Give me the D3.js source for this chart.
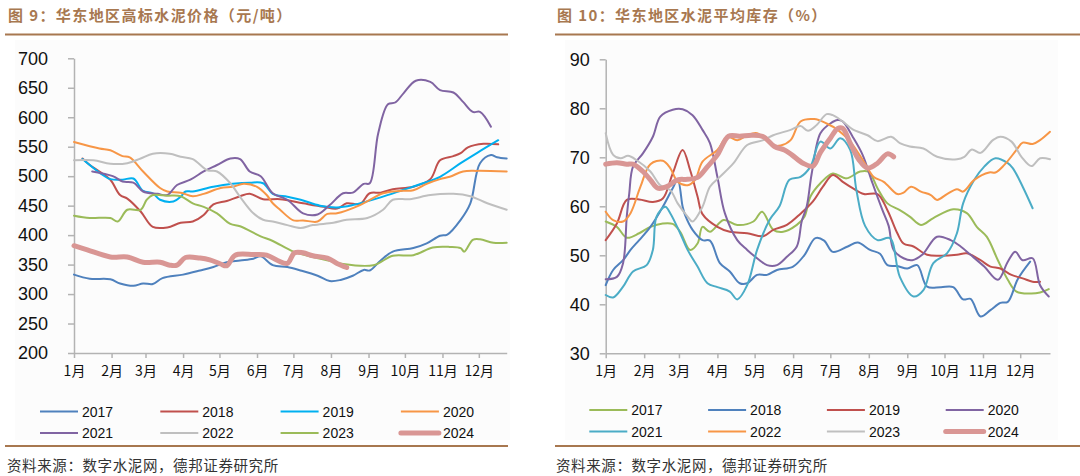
<!DOCTYPE html>
<html><head><meta charset="utf-8">
<script src="https://cdn.jsdelivr.net/npm/d3@7"></script>
<style>
body{margin:0;background:#fff;}
svg{display:block;font-family:"Liberation Sans",Arial,sans-serif;}
</style>
</head><body>
<svg id="c" width="1080" height="476"></svg>
<script>
// ---------- shared ----------
const months = ["1月","2月","3月","4月","5月","6月","7月","8月","9月","10月","11月","12月"];
const years = ["2017","2018","2019","2020","2021","2022","2023","2024"];
const sourceText = "资料来源：数字水泥网，德邦证券研究所";

// ---------- chart 9: price (yuan/ton), x = day of year ----------
const title9 = "图 9：华东地区高标水泥价格（元/吨）";
const priceTicks = [200,250,300,350,400,450,500,550,600,650,700];
const price2017 = [[0,333],[13,326],[30,325],[38,318],[49,314],[57,318],[65,317],[73,327],[90,333],[104,340],[115,346],[126,354],[137,357],[148,360],[154,364],[164,349],[176,346],[187,340],[201,331],[211,322],[220,324],[230,331],[239,341],[244,340],[253,357],[263,372],[280,378],[291,386],[302,399],[308,401],[319,426],[327,454],[335,522],[344,536],[349,532],[357,530]];
const price2018 = [[7,530],[13,519],[21,508],[30,494],[38,468],[44,462],[55,440],[65,414],[77,413],[88,421],[98,423],[107,434],[115,452],[126,458],[137,466],[145,470],[156,461],[170,461],[189,454],[206,448],[217,445],[225,454],[236,453],[244,471],[253,472],[263,478],[280,482],[294,495],[302,527],[313,534],[319,539],[325,549],[338,555],[350,554]];
const price2019 = [[7,529],[21,506],[30,495],[40,494],[49,496],[57,475],[65,471],[71,460],[82,457],[88,465],[92,474],[98,474],[115,482],[131,487],[145,489],[156,488],[164,470],[176,465],[187,460],[203,450],[217,447],[230,451],[253,464],[272,477],[288,488],[302,499],[319,522],[333,540],[350,561]];
const price2020 = [[0,558],[21,547],[30,544],[40,534],[46,532],[57,508],[71,480],[77,474],[88,472],[98,466],[107,470],[121,480],[131,482],[140,487],[151,482],[159,468],[164,454],[170,443],[181,425],[189,425],[201,423],[209,436],[217,437],[236,451],[255,471],[269,475],[280,476],[291,487],[302,495],[310,499],[321,508],[333,509],[357,508]];
const price2021 = [[15,508],[32,500],[40,491],[49,489],[57,474],[69,470],[77,468],[85,485],[96,494],[107,508],[118,519],[129,530],[137,529],[145,508],[154,500],[164,471],[176,460],[189,437],[201,435],[211,451],[222,471],[230,472],[239,487],[244,488],[251,573],[259,622],[265,625],[272,641],[282,662],[294,660],[302,646],[313,642],[321,626],[329,609],[335,609],[344,584]];
const price2022 = [[0,527],[16,527],[30,521],[44,522],[55,530],[65,538],[79,538],[88,533],[98,529],[110,510],[118,508],[129,488],[137,465],[148,437],[156,426],[164,423],[176,417],[187,412],[197,417],[214,421],[225,426],[242,429],[255,443],[263,460],[277,461],[294,468],[313,470],[327,466],[341,454],[357,443]];
const price2023 = [[0,433],[13,429],[30,429],[36,423],[44,443],[55,443],[60,460],[65,468],[77,467],[88,466],[98,454],[107,448],[118,437],[129,419],[137,415],[154,398],[164,390],[181,372],[197,363],[214,355],[222,351],[247,349],[263,365],[280,366],[296,379],[310,380],[319,378],[322,372],[329,392],[335,393],[346,387],[357,387]];
const price2024 = [[0,382],[11,375],[30,363],[44,363],[57,354],[71,354],[79,349],[85,349],[92,362],[104,361],[112,358],[121,351],[126,348],[133,366],[148,367],[159,366],[168,357],[176,352],[182,370],[189,370],[197,365],[209,361],[217,352],[225,345]];
const priceSeries = [price2017,price2018,price2019,price2020,price2021,price2022,price2023,price2024];
const priceColors = ["#4f81bd","#c0504d","#00b0f0","#f79646","#8064a2","#bfbfbf","#9bbb59","#d99694"];

// ---------- chart 10: inventory (%), x = day of year ----------
const title10 = "图 10：华东地区水泥平均库存（%）";
const invTicks = [30,40,50,60,70,80,90];
const inv2017 = [[0,56.9],[9,55.8],[17,53.6],[27,54.5],[36,55.8],[46,56.5],[54,56.4],[60,54.8],[68,51.1],[74,52.4],[78,55.8],[84,54.8],[95,57.2],[106,56.2],[119,56.9],[126,58.9],[135,55.2],[143,54.8],[154,56.2],[160,57.8],[165,62.0],[173,64.7],[183,66.7],[194,65.7],[205,67.1],[212,67.0],[219,63.7],[227,60.6],[237,59.2],[245,57.9],[254,56.2],[264,57.6],[280,59.4],[291,58.6],[299,55.8],[307,53.8],[316,49.0],[324,45.0],[331,42.6],[342,42.2],[350,42.4],[357,43.1]];
const inv2018 = [[0,43.9],[6,47.0],[14,49.0],[20,51.1],[27,53.1],[36,55.8],[46,59.9],[54,63.7],[58,65.4],[62,59.9],[64,58.2],[70,55.2],[78,53.1],[84,53.0],[92,48.4],[100,46.7],[108,44.3],[114,44.3],[122,46.0],[130,46.0],[138,47.0],[151,47.7],[160,50.0],[169,53.5],[176,53.0],[183,50.7],[195,51.8],[203,52.6],[213,51.1],[221,50.3],[227,48.0],[235,47.8],[243,47.3],[251,48.0],[259,43.6],[270,43.5],[280,43.5],[288,41.0],[294,41.1],[302,37.5],[310,38.8],[318,40.3],[324,40.5],[332,45.1],[342,48.7]];
const inv2019 = [[0,53.1],[9,56.5],[17,61.3],[27,61.4],[38,60.9],[46,61.6],[54,66.7],[62,71.5],[68,67.4],[74,62.0],[78,58.4],[90,55.8],[100,54.8],[114,54.5],[127,53.9],[135,55.2],[146,56.2],[157,58.5],[167,61.0],[175,64.0],[183,66.4],[191,65.0],[199,63.7],[208,62.5],[219,62.5],[227,59.2],[235,54.5],[240,52.4],[248,51.8],[259,50.1],[270,49.9],[283,50.1],[291,50.4],[302,49.0],[310,47.7],[318,47.3],[327,46.0],[336,45.3],[344,44.6],[350,44.6]];
const inv2020 = [[0,45.1],[9,45.6],[14,48.4],[17,58.0],[19,62.7],[22,68.1],[30,70.8],[38,74.2],[44,78.3],[54,79.7],[62,79.8],[70,78.6],[78,75.6],[84,72.9],[90,66.0],[96,58.6],[106,53.1],[114,51.1],[124,49.0],[130,48.0],[138,48.0],[146,49.7],[154,51.8],[158,57.0],[162,60.0],[166,66.7],[173,74.9],[181,76.9],[187,77.6],[191,77.3],[199,74.2],[207,70.5],[215,64.7],[223,59.2],[228,56.0],[232,51.1],[240,49.4],[247,49.0],[255,50.1],[267,53.8],[278,53.1],[286,51.8],[294,50.1],[305,47.7],[316,45.0],[324,48.7],[330,50.7],[336,49.0],[344,49.4],[350,43.9],[357,41.6]];
const inv2021 = [[0,41.9],[6,41.4],[14,43.6],[22,46.7],[33,48.0],[38,51.1],[41,57.9],[48,59.9],[52,58.6],[60,54.5],[66,51.1],[74,47.7],[82,44.3],[90,43.5],[100,42.6],[106,41.0],[114,43.9],[122,51.1],[132,57.2],[140,60.0],[148,65.4],[157,66.0],[165,68.1],[173,73.2],[181,71.8],[189,73.9],[197,71.5],[202,63.3],[209,56.0],[219,53.1],[229,53.5],[237,45.6],[248,41.6],[256,42.9],[264,48.4],[275,50.4],[283,54.5],[288,60.6],[297,65.4],[305,68.1],[314,69.8],[324,68.8],[328,67.8],[336,64.0],[344,59.6]];
const inv2022 = [[0,58.9],[6,57.2],[14,56.9],[20,58.6],[28,64.0],[36,68.6],[46,69.3],[52,67.8],[58,65.0],[66,64.3],[72,65.4],[78,69.1],[90,71.5],[98,74.2],[106,73.5],[114,74.5],[122,74.9],[134,72.5],[141,72.4],[149,73.5],[157,77.3],[168,77.8],[178,76.9],[187,75.6],[197,73.2],[208,69.1],[216,66.0],[224,65.0],[235,62.5],[240,62.8],[246,64.0],[254,63.0],[262,62.3],[267,61.3],[275,62.5],[283,63.5],[288,63.0],[297,65.4],[309,66.9],[314,66.9],[321,68.4],[331,71.5],[336,73.0],[344,72.7],[350,73.5],[358,75.2]];
const inv2023 = [[0,74.9],[6,70.5],[12,69.8],[18,70.3],[25,69.4],[36,67.1],[44,64.3],[52,63.3],[58,60.6],[66,57.9],[70,56.9],[78,59.9],[84,64.0],[92,66.0],[103,68.8],[114,72.5],[127,73.5],[135,74.5],[149,75.6],[157,76.4],[163,75.4],[170,76.6],[178,78.8],[183,78.6],[191,77.3],[199,75.7],[211,74.5],[219,73.3],[230,74.2],[237,72.9],[245,72.2],[256,71.8],[267,70.1],[283,69.6],[289,70.1],[295,71.6],[302,70.9],[312,73.5],[318,74.2],[327,73.2],[335,70.1],[343,68.2],[350,69.8],[358,69.6]];
const inv2024 = [[0,68.6],[9,68.9],[17,68.6],[22,68.6],[30,67.1],[36,65.4],[42,63.7],[49,64.0],[58,65.4],[66,65.5],[74,65.9],[82,68.1],[90,70.5],[99,74.3],[108,74.3],[118,74.5],[127,74.2],[136,72.2],[144,71.5],[150,70.5],[159,68.8],[167,68.2],[173,71.0],[181,73.9],[187,75.9],[191,75.9],[197,72.9],[204,69.5],[211,67.8],[219,68.8],[227,70.7],[232,70.1]];
const invSeries = [inv2017,inv2018,inv2019,inv2020,inv2021,inv2022,inv2023,inv2024];
const invColors = ["#9bbb59","#4f81bd","#c0504d","#8064a2","#4bacc6","#f79646","#bfbfbf","#d99694"];

// ---------- drawing ----------
const svg = d3.select("#c");
const BROWN = "#a87850";
const base = new Date(2023,0,1);
const toDate = d => d3.timeDay.offset(base, d);
const monthStarts = d3.range(12).map(m => new Date(2023,m,1));

function panel(o){
  const g = svg.append("g");
  // faint chart area
  g.append("rect").attr("x",o.bgX0).attr("y",40).attr("width",o.bgX1-o.bgX0).attr("height",400).attr("fill","#fcfcfc");
  // title
  g.append("text").attr("x",o.titleX).attr("y",21).text(o.title)
    .attr("fill",BROWN).attr("font-size",15).attr("font-weight","bold")
    .attr("letter-spacing",1.4).attr("font-family","'Noto Sans CJK SC',sans-serif");
  g.append("line").attr("x1",o.ruleX0).attr("x2",o.ruleX1).attr("y1",34.5).attr("y2",34.5)
    .attr("stroke",BROWN).attr("stroke-width",2.2);
  g.append("line").attr("x1",o.ruleX0).attr("x2",o.ruleX1).attr("y1",446).attr("y2",446)
    .attr("stroke",BROWN).attr("stroke-width",2.2);
  g.append("text").attr("x",o.titleX-1).attr("y",471).text(sourceText)
    .attr("fill","#333").attr("font-size",14.5).attr("letter-spacing",0.6)
    .attr("font-family","'Noto Sans CJK SC',sans-serif");

  const x = d3.scaleTime().domain([base, o.end]).range([o.x0,o.x1]);
  const y = d3.scaleLinear().domain([o.ticks[0], o.ticks[o.ticks.length-1]]).range([o.yBot,o.yTop]);

  const ya = g.append("g").attr("transform",`translate(${o.x0},0)`)
    .call(d3.axisLeft(y).tickValues(o.ticks).tickSize(6).tickSizeOuter(0).tickPadding(o.yPad));
  ya.select(".domain").attr("stroke","#b3b3b3").attr("stroke-width",1.5);
  ya.selectAll(".tick line").attr("stroke","#b3b3b3").attr("stroke-width",1.5);
  ya.selectAll(".tick text").attr("font-size",18).attr("fill","#111")
    .attr("font-family","'Liberation Sans',Arial,sans-serif");

  const xa = g.append("g").attr("transform",`translate(0,${o.yBot})`)
    .call(d3.axisBottom(x).tickValues(monthStarts).tickSize(5).tickSizeOuter(0).tickPadding(8)
      .tickFormat((d,i)=>months[i]));
  xa.select(".domain").attr("stroke","#b3b3b3").attr("stroke-width",1.5);
  xa.selectAll(".tick line").attr("stroke","#b3b3b3").attr("stroke-width",1.5);
  xa.selectAll(".tick text").attr("font-size",14).attr("fill","#111")
    .attr("font-family","'Noto Sans CJK SC',sans-serif");

  const line = d3.line().x(d=>x(toDate(d[0]))).y(d=>y(d[1])).curve(d3.curveCatmullRom.alpha(0.5));
  o.series.forEach((s,i)=>{
    const last = i===o.series.length-1;
    g.append("path").attr("d",line(s)).attr("fill","none")
      .attr("stroke",o.colors[i]).attr("stroke-width",last?5:2)
      .attr("stroke-linecap","round").attr("stroke-linejoin","round");
  });

  // legend
  years.forEach((yr,i)=>{
    const col = i%4, row = Math.floor(i/4);
    const lx = o.legX + col*o.legDX, ly = o.legY + row*21.5;
    const last = i===years.length-1;
    g.append("line").attr("x1",lx).attr("x2",lx+38).attr("y1",ly).attr("y2",ly)
      .attr("stroke",o.colors[i]).attr("stroke-width",last?5:2).attr("stroke-linecap",last?"round":"butt");
    g.append("text").attr("x",lx+42).attr("y",ly).attr("dy","0.36em").text(yr)
      .attr("font-size",14).attr("fill","#111");
  });
}

panel({title:title9,titleX:8,ruleX0:5,ruleX1:508,bgX0:15,bgX1:510,
  x0:74,x1:506.7,yTop:58.3,yBot:353,end:new Date(2023,11,24),
  ticks:priceTicks,yPad:20,series:priceSeries,colors:priceColors,
  legX:40,legDX:120.3,legY:411.5});
panel({title:title10,titleX:557,ruleX0:555,ruleX1:1080,bgX0:565,bgX1:1058,
  x0:605.7,x1:1050,yTop:59.3,yBot:353.3,end:new Date(2023,11,25),
  ticks:invTicks,yPad:10,series:invSeries,colors:invColors,
  legX:589.3,legDX:118.8,legY:410});
</script>
</body></html>
